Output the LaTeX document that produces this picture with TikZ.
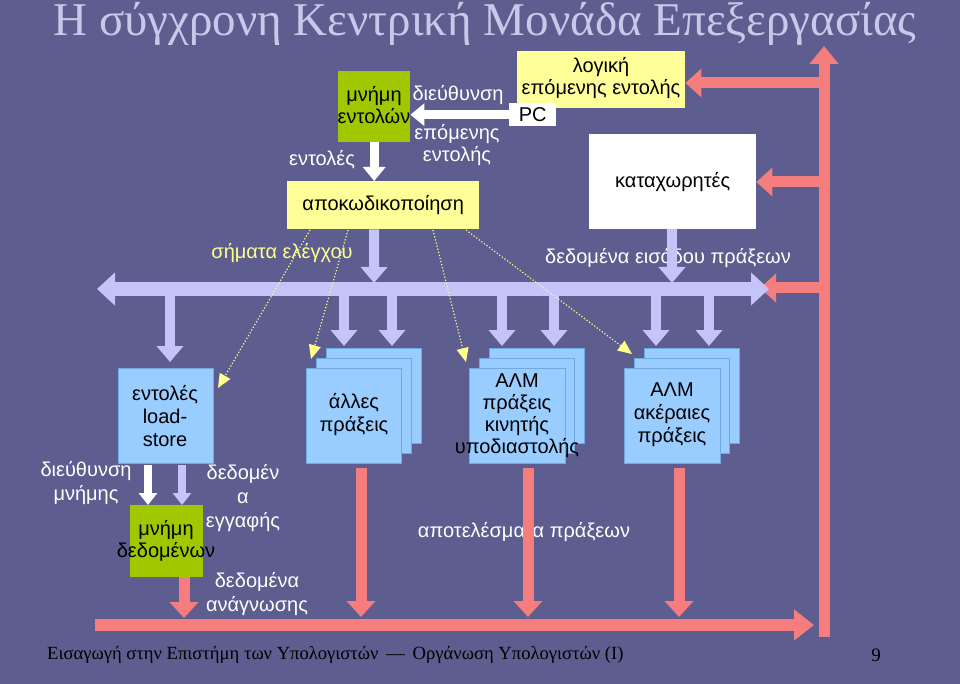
\documentclass[tikz,border=0pt]{standalone}
\usepackage{fontspec}
\setmainfont{Liberation Sans}
\newfontfamily\titleserif{Liberation Serif}
\usetikzlibrary{arrows.meta}
\definecolor{bg}{RGB}{93,93,143}
\definecolor{lav}{RGB}{196,196,248}
\definecolor{redb}{RGB}{245,125,125}
\definecolor{yel}{RGB}{255,255,153}
\definecolor{grn}{RGB}{160,200,0}
\definecolor{lblue}{RGB}{153,204,255}
\definecolor{lbluee}{RGB}{110,170,225}
\definecolor{ytxt}{RGB}{255,255,140}
\definecolor{ttl}{RGB}{200,200,235}
\tikzset{
 lbl/.style={font=\fontsize{20}{22}\selectfont, text=white, align=center, inner sep=0},
 boxtxt/.style={font=\fontsize{20}{22}\selectfont, text=black, align=center, inner sep=0},
 lavarr/.style={draw=lav, line width=10pt, -{Triangle[length=16pt,width=26pt]}},
 redarr/.style={draw=redb, line width=11pt, -{Triangle[length=16pt,width=28pt]}},
 whitearr/.style={draw=white, line width=9pt, -{Triangle[length=14pt,width=22pt]}},
 ctrl/.style={draw=ytxt, dotted, line width=1.2pt, -{Triangle[length=14pt,width=12pt,fill=ytxt]}},
 unitbox/.style={fill=lblue, draw=lbluee, line width=0.6pt},
}
\begin{document}
\begin{tikzpicture}[x=1pt,y=-1pt]
\fill[bg] (0,0) rectangle (960,684);
\useasboundingbox (0,0) rectangle (960,684);
\node[text=ttl, font=\titleserif\fontsize{47}{50}\selectfont, inner sep=0] (title) at (485,24) {Η σύγχρονη Κεντρική Μονάδα Επεξεργασίας};
\node[text=black, font=\titleserif\fontsize{18.6}{21}\selectfont, anchor=west, inner sep=0] (foot) at (47,655) {Εισαγωγή στην Επιστήμη των Υπολογιστών \,—\, Οργάνωση Υπολογιστών (Ι)};
\node[text=black, font=\titleserif\fontsize{19}{21}\selectfont, inner sep=0] (pg) at (876,655) {9};

% red vertical bar
\coordinate (rbot) at (824,637);
\coordinate (rtop) at (824,46);
\draw[draw=redb, line width=11pt, -{Triangle[length=18pt,width=28pt]}] (rbot) -- (rtop);

% boxes top
\node[fill=yel, minimum width=168pt, minimum height=57pt, anchor=north west, inner sep=0] (logic) at (517,51) {};
\node[boxtxt, anchor=north] (logict) at (601,57) {λογική\\επόμενης εντολής};
\node[fill=white, minimum width=47pt, minimum height=23pt, anchor=north west, inner sep=0, boxtxt] (pc) at (509,103) {PC};
\node[fill=grn, minimum width=72pt, minimum height=71pt, anchor=north west, inner sep=0] (imem) at (338,71) {};
\node[boxtxt] (imemt) at (374,105) {μνήμη\\εντολών};
\node[fill=yel, minimum width=192pt, minimum height=48pt, anchor=north west, inner sep=0, boxtxt] (dec) at (287,181) {αποκωδικοποίηση};
\node[fill=white, minimum width=167pt, minimum height=95pt, anchor=north west, inner sep=0, boxtxt] (regs) at (589,134) {καταχωρητές};

% top arrows
\draw[whitearr] (pc.west) -- (imem.east |- pc.west);
\draw[whitearr] (imem.south) -- (dec.north -| imem.south);
\draw[redarr] (819,83) -- (logic.east |- 0,83);
\draw[redarr] (819,182) -- (regs.east |- 0,182);
\draw[redarr] (819,288) -- (760,288);

\node[lbl] (ldiev) at (458,95) {διεύθυνση};
\node[lbl] (lnext) at (457,145) {επόμενης\\εντολής};
\node[lbl] (lentol) at (322,160) {εντολές};
\node[font=\fontsize{20}{22}\selectfont, text=ytxt, inner sep=0] (lctrl) at (282,253) {σήματα ελέγχου};
\node[lbl] (lin) at (668,258) {δεδομένα εισόδου πράξεων};

% bus
\draw[draw=lav, line width=14pt, {Triangle[length=18pt,width=32pt]}-{Triangle[length=18pt,width=32pt]}] (97,289) -- (769,289);
\draw[lavarr] (dec.south -| imem.south) -- (374,283);
\draw[lavarr] (regs.south -| 672,0) -- (672,283);

% units
\foreach \x/\n in {306/a,469/b,624/c}{
 \draw[unitbox] (\x+20,348) rectangle (\x+115,443);
 \draw[unitbox] (\x+10,358) rectangle (\x+105,453);
}
\node[unitbox, minimum width=95pt, minimum height=95pt, anchor=north west, inner sep=0] (ua) at (306,368) {};
\node[unitbox, minimum width=96pt, minimum height=95pt, anchor=north west, inner sep=0] (ub) at (469,368) {};
\node[unitbox, minimum width=96pt, minimum height=95pt, anchor=north west, inner sep=0] (uc) at (624,368) {};
\node[unitbox, minimum width=95pt, minimum height=95pt, anchor=north west, inner sep=0] (ls) at (118,368) {};
\node[boxtxt, font=\fontsize{20}{23}\selectfont] (lst) at (165,416) {εντολές\\load-\\store};
\node[boxtxt, font=\fontsize{20}{23}\selectfont] (uat) at (354,415) {άλλες\\πράξεις};
\node[boxtxt, font=\fontsize{20}{22}\selectfont] (ubt) at (517,416) {ΑΛΜ\\πράξεις\\κινητής\\υποδιαστολής};
\node[boxtxt, font=\fontsize{20}{23}\selectfont] (uct) at (672,415) {ΑΛΜ\\ακέραιες\\πράξεις};

% bus to units
\foreach \x/\e in {170/362,344/346,392/346,502/346,554/346,656/346,709/346}{
 \draw[lavarr] (\x,296) -- (\x,\e);
}

% control dotted
\draw[ctrl] (310,230) -- (218,388);
\draw[ctrl] (348,230) -- (311,359);
\draw[ctrl] (433,230) -- (466,362);
\draw[ctrl] (466,230) -- (632,354);

% data memory
\node[fill=grn, minimum width=73pt, minimum height=72pt, anchor=north west, inner sep=0] (dmem) at (130,505) {};
\node[boxtxt] (dmemt) at (166,541) {μνήμη\\δεδομένων};
\draw[draw=white, line width=8pt, -{Triangle[length=12pt,width=18pt]}] (148,465) -- (148,505);
\draw[draw=lav, line width=8pt, -{Triangle[length=12pt,width=18pt]}] (182,465) -- (182,505);
\node[lbl, font=\fontsize{20}{24}\selectfont] (ladr) at (86,483) {διεύθυνση\\μνήμης};
\node[lbl, font=\fontsize{20}{24}\selectfont] (lwr) at (243,498) {δεδομέν\\α\\εγγαφής};
\node[lbl, font=\fontsize{20}{24}\selectfont] (lrd) at (257,594) {δεδομένα\\ανάγνωσης};
\node[lbl] (lres) at (524,532) {αποτελέσματα πράξεων};

% result arrows
\draw[redarr] (dmem.south -| 184,0) -- (184,618);
\draw[redarr] (361,468) -- (361,617);
\draw[redarr] (528,468) -- (528,617);
\draw[redarr] (679,468) -- (679,617);
\draw[draw=redb, line width=12pt, -{Triangle[length=20pt,width=30pt]}] (95,625) -- (814,625);
\end{tikzpicture}
\end{document}
